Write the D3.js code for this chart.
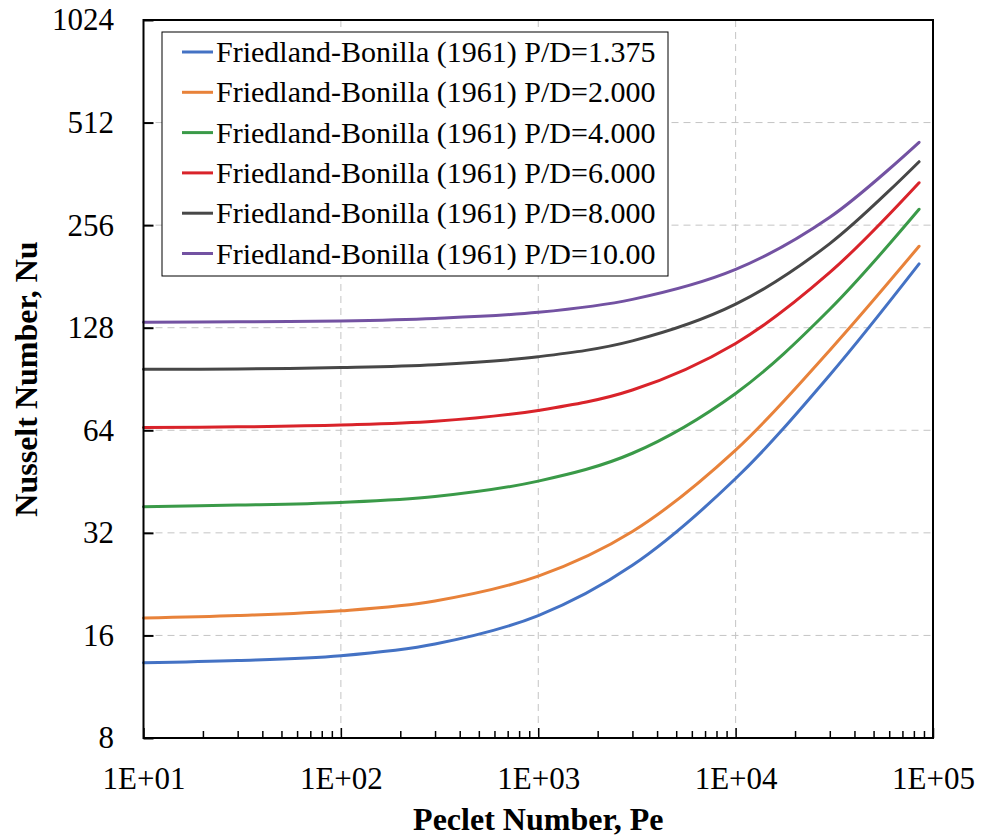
<!DOCTYPE html>
<html>
<head>
<meta charset="utf-8">
<script src="https://cdn.jsdelivr.net/npm/d3@7"></script>
<style>
  html, body { margin: 0; padding: 0; background: #fff; }
  svg { display: block; }
  text { font-family: "Liberation Serif", "Times New Roman", Times, serif; fill: #000; }
</style>
</head>
<body>
<svg id="chart" width="981" height="838"></svg>
<script>
// ---- Data ----
const peclet = [10, 30, 100, 300, 1000, 3000, 10000, 30000, 85000];
const nuPD1375 = [13.3, 13.5, 13.95, 15.1, 18.3, 25.7, 46.2, 93, 197];
const nuPD2000 = [18.0, 18.3, 18.9, 20.2, 23.9, 32.3, 56.0, 110, 222];
const nuPD4000 = [38.2, 38.6, 39.3, 40.9, 45.4, 54.8, 82.1, 145, 285];
const nuPD6000 = [65.2, 65.5, 66.3, 68.0, 73.2, 84.0, 115.1, 186, 341];
const nuPD8000 = [96.6, 96.9, 97.8, 99.7, 105.2, 117.1, 150.1, 226, 393];
const nuPD1000 = [132.8, 133.2, 134, 136.3, 142, 155, 189.8, 270, 448];
const seriesNames = [
  "Friedland-Bonilla (1961) P/D=1.375",
  "Friedland-Bonilla (1961) P/D=2.000",
  "Friedland-Bonilla (1961) P/D=4.000",
  "Friedland-Bonilla (1961) P/D=6.000",
  "Friedland-Bonilla (1961) P/D=8.000",
  "Friedland-Bonilla (1961) P/D=10.00"
];
const seriesValues = [nuPD1375, nuPD2000, nuPD4000, nuPD6000, nuPD8000, nuPD1000];
const seriesColors = ["#4472C4", "#E8823A", "#3A9A48", "#D9232A", "#474747", "#7352A2"];
const xTickValues = [10, 100, 1000, 10000, 100000];
const xTickLabels = ["1E+01", "1E+02", "1E+03", "1E+04", "1E+05"];
const yTickValues = [8, 16, 32, 64, 128, 256, 512, 1024];
const xTitle = "Peclet Number, Pe";
const yTitle = "Nusselt Number, Nu";

// ---- Layout ----
const L = 143.5, R = 933, T = 20, B = 738;
const svg = d3.select("#chart");
svg.append("rect").attr("width", 981).attr("height", 838).attr("fill", "#fff");

const x = d3.scaleLog().domain([10, 100000]).range([L, R]);
const y = d3.scaleLog().base(2).domain([8, 1024]).range([B, T]);

// Grid
const grid = svg.append("g");
grid.selectAll("line.v").data(xTickValues.slice(1, -1)).join("line")
  .attr("x1", d => x(d)).attr("x2", d => x(d)).attr("y1", T).attr("y2", B)
  .attr("stroke", "#c4c4c4").attr("stroke-width", 1).attr("stroke-dasharray", "7,5");
grid.selectAll("line.h").data(yTickValues.slice(1, -1)).join("line")
  .attr("x1", L).attr("x2", R).attr("y1", d => y(d)).attr("y2", d => y(d))
  .attr("stroke", "#c4c4c4").attr("stroke-width", 1).attr("stroke-dasharray", "7,5");

// Minor x ticks
const minor = [];
for (let dec = 10; dec < 100000; dec *= 10) for (let k = 2; k <= 9; k++) minor.push(dec * k);
const xMinorAxis = d3.axisBottom(x).tickValues(minor).tickFormat("").tickSizeInner(-7).tickSizeOuter(0);
svg.append("g").attr("transform", `translate(0,${B})`).call(xMinorAxis)
  .call(g => g.select(".domain").remove())
  .call(g => g.selectAll(".tick line").attr("stroke", "#000").attr("stroke-width", 1.5));

// Major x axis
const xAxis = d3.axisBottom(x).tickValues(xTickValues)
  .tickFormat((d, i) => xTickLabels[i]).tickSizeInner(-10).tickSizeOuter(0).tickPadding(29);
svg.append("g").attr("transform", `translate(0,${B})`).call(xAxis)
  .call(g => g.select(".domain").remove())
  .call(g => g.selectAll(".tick line").attr("stroke", "#000").attr("stroke-width", 1.5))
  .call(g => g.selectAll(".tick text").attr("font-size", 31).attr("font-family", "Liberation Serif, Times New Roman, serif").attr("fill", "#000"));

// y axis
const yAxis = d3.axisLeft(y).tickValues(yTickValues).tickFormat(d => String(d))
  .tickSizeInner(-10).tickSizeOuter(0).tickPadding(29.5);
svg.append("g").attr("transform", `translate(${L},0)`).call(yAxis)
  .call(g => g.select(".domain").remove())
  .call(g => g.selectAll(".tick line").attr("stroke", "#000").attr("stroke-width", 2))
  .call(g => g.selectAll(".tick text").attr("font-size", 31).attr("font-family", "Liberation Serif, Times New Roman, serif").attr("fill", "#000"));

// Lines
const line = d3.line().x(d => x(d[0])).y(d => y(d[1])).curve(d3.curveCatmullRom.alpha(0.5));
seriesValues.forEach((vals, i) => {
  svg.append("path")
    .datum(peclet.map((p, j) => [p, vals[j]]))
    .attr("d", line).attr("fill", "none")
    .attr("stroke", seriesColors[i]).attr("stroke-width", 3)
    .attr("stroke-linecap", "round");
});

// Frame
svg.append("rect").attr("x", L).attr("y", T).attr("width", R - L).attr("height", B - T)
  .attr("fill", "none").attr("stroke", "#000").attr("stroke-width", 2);

// Legend
const lg = svg.append("g");
lg.append("rect").attr("x", 162).attr("y", 32).attr("width", 506).attr("height", 244)
  .attr("fill", "#fff").attr("stroke", "#000").attr("stroke-width", 1);
seriesNames.forEach((name, i) => {
  const cy = 52 + i * 40.3;
  lg.append("line").attr("x1", 182).attr("x2", 213).attr("y1", cy).attr("y2", cy)
    .attr("stroke", seriesColors[i]).attr("stroke-width", 3);
  lg.append("text").attr("x", 216).attr("y", cy + 10).attr("font-size", 30).text(name);
});

// Axis titles
svg.append("text").attr("x", (L + R) / 2).attr("y", 830).attr("text-anchor", "middle")
  .attr("font-size", 32).attr("font-weight", "bold").text(xTitle);
svg.append("text").attr("transform", `translate(37,${(T + B) / 2}) rotate(-90)`)
  .attr("text-anchor", "middle").attr("font-size", 32).attr("font-weight", "bold").text(yTitle);
</script>
</body>
</html>
